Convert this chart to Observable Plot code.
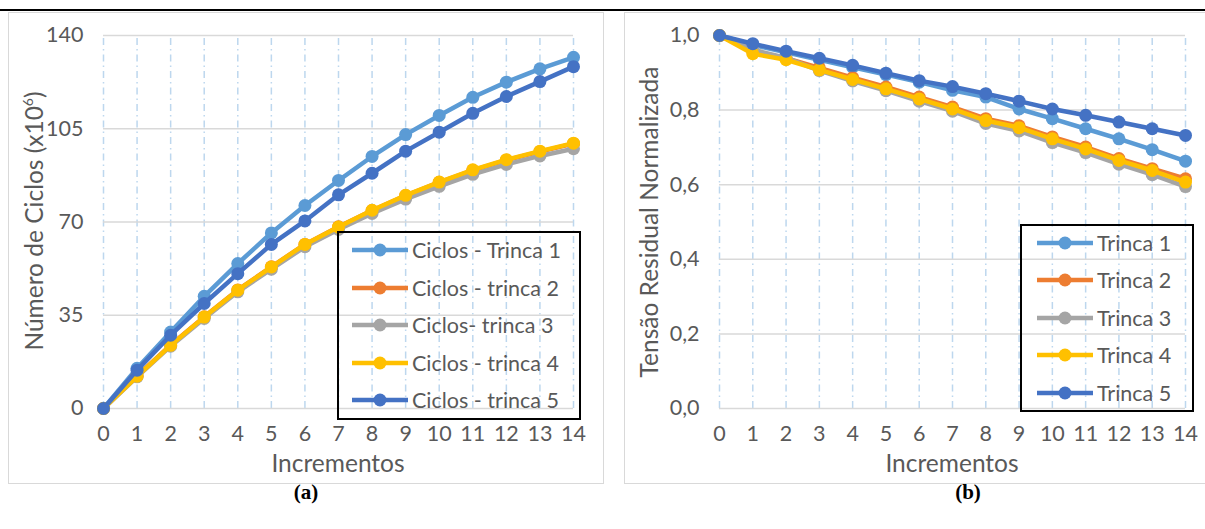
<!DOCTYPE html>
<html>
<head>
<meta charset="utf-8">
<script src="https://cdn.jsdelivr.net/npm/d3@7"></script>
<script src="https://cdn.jsdelivr.net/npm/@observablehq/plot@0.6"></script>
<style>
  html, body { margin: 0; padding: 0; background: #fff; }
  #page { position: relative; width: 1205px; height: 529px; overflow: hidden; font-family: Lato, "Open Sans", sans-serif; }
  .abs { position: absolute; }
  .panel { position: absolute; border: 1.5px solid #d9d9d9; box-sizing: border-box; }
  .ttl { position: absolute; color: #595959; font-size: 24.5px; white-space: nowrap; }
  .legend { position: absolute; border: 2px solid #000; box-sizing: border-box; }
  .lrow { position: absolute; left: 0; height: 30px; display: flex; align-items: center; color: #595959; font-size: 21.5px; white-space: nowrap; }
  .cap { position: absolute; font-family: "Liberation Serif", serif; font-weight: bold; font-size: 21px; color: #000; }
</style>
</head>
<body>
<div id="page"></div>
<script>
// ---------- data ----------
const increments = [0,1,2,3,4,5,6,7,8,9,10,11,12,13,14];

const seriesNamesA = ["Ciclos - Trinca 1", "Ciclos - trinca 2", "Ciclos- trinca 3", "Ciclos - trinca 4", "Ciclos - trinca 5"];
const ciclosT1 = [0, 15.1, 28.7, 42.1, 54.4, 65.9, 76.2, 85.6, 94.6, 102.8, 110.0, 116.8, 122.5, 127.5, 131.8];
const ciclosT2 = [0, 12.2, 23.8, 34.4, 44.5, 53.2, 61.6, 68.2, 74.3, 79.9, 84.9, 89.4, 93.2, 96.4, 99.4];
const ciclosT3 = [0, 11.9, 23.4, 33.8, 43.8, 52.3, 60.7, 67.2, 73.2, 78.6, 83.4, 87.9, 91.6, 94.8, 97.5];
const ciclosT4 = [0, 12.1, 23.7, 34.3, 44.4, 53.1, 61.6, 68.1, 74.4, 80.0, 85.0, 89.6, 93.4, 96.6, 99.6];
const ciclosT5 = [0, 14.4, 27.5, 39.4, 50.6, 61.6, 70.4, 80.2, 88.3, 96.6, 103.7, 110.8, 117.1, 122.7, 128.3];

const seriesNamesB = ["Trinca 1", "Trinca 2", "Trinca 3", "Trinca 4", "Trinca 5"];
const tensaoT1 = [1.0, 0.975, 0.955, 0.935, 0.915, 0.895, 0.875, 0.853, 0.835, 0.803, 0.777, 0.750, 0.723, 0.694, 0.663];
const tensaoT2 = [1.0, 0.957, 0.939, 0.913, 0.887, 0.862, 0.835, 0.808, 0.777, 0.758, 0.728, 0.701, 0.670, 0.643, 0.616];
const tensaoT3 = [1.0, 0.962, 0.940, 0.906, 0.878, 0.852, 0.824, 0.797, 0.764, 0.744, 0.713, 0.686, 0.655, 0.627, 0.595];
const tensaoT4 = [1.0, 0.951, 0.935, 0.908, 0.882, 0.857, 0.830, 0.803, 0.772, 0.753, 0.723, 0.696, 0.665, 0.638, 0.607];
const tensaoT5 = [1.0, 0.978, 0.958, 0.939, 0.920, 0.899, 0.879, 0.863, 0.844, 0.824, 0.803, 0.786, 0.768, 0.750, 0.732];

const seriesColors = ["#5B9BD5", "#ED7D31", "#A5A5A5", "#FFC000", "#4472C4"];
const yTicksA = [0, 35, 70, 105, 140];
const yTicksB = [0, 0.2, 0.4, 0.6, 0.8, 1.0];

// ---------- helpers ----------
const page = document.getElementById("page");
function el(tag, cls, style, html) {
  const e = document.createElement(tag);
  if (cls) e.className = cls;
  Object.assign(e.style, style || {});
  if (html != null) e.innerHTML = html;
  page.appendChild(e);
  return e;
}

// top rule
el("div", "abs", {left: "0px", top: "9px", width: "1205px", height: "2px", background: "#000"});
// panels
el("div", "panel", {left: "8px", top: "12px", width: "596px", height: "472px"});
el("div", "panel", {left: "624px", top: "12px", width: "600px", height: "472px"});

function makeChart(names, seriesArrays, opts) {
  const data = [];
  names.forEach((n, i) => seriesArrays[i].forEach((v, j) => data.push({series: n, x: increments[j], y: v})));
  const marks = [
    Plot.ruleX(increments, {x: d => d, y1: opts.yDomain[0], y2: opts.yDomain[1], stroke: "#bdd7ee", strokeWidth: 1.5, strokeDasharray: "7,4,1.5,4"}),
    Plot.ruleY(opts.yTicks, {y: d => d, x1: 0, x2: 14, stroke: "#d9d9d9", strokeWidth: 1.5}),
    Plot.axisX({ticks: increments, tickSize: 0, tickPadding: 17, fontSize: 21.5, label: null, tickFormat: d => String(d)}),
    Plot.axisY({ticks: opts.yTicks, tickSize: 0, tickPadding: 20, fontSize: 21.5, label: null, tickFormat: opts.fmt})
  ];
  names.forEach((n, i) => {
    const sub = data.filter(d => d.series === n);
    marks.push(Plot.line(sub, {x: "x", y: "y", stroke: seriesColors[i], strokeWidth: 4.5}));
    marks.push(Plot.dot(sub, {x: "x", y: "y", fill: seriesColors[i], r: 6.5}));
  });
  return Plot.plot({
    width: opts.width, height: opts.height,
    marginLeft: opts.ml, marginRight: opts.mr, marginTop: opts.mt, marginBottom: opts.mb,
    x: {domain: [0, 14]},
    y: {domain: opts.yDomain},
    style: {fontFamily: "Lato, 'Open Sans', sans-serif", color: "#595959", background: "transparent", overflow: "visible"},
    marks
  });
}

const chartA = makeChart(seriesNamesA, [ciclosT1, ciclosT2, ciclosT3, ciclosT4, ciclosT5],
  {width: 595, height: 472, ml: 95, mr: 30, mt: 23, mb: 76, yDomain: [0, 140], yTicks: yTicksA, fmt: d => String(d)});
chartA.style.position = "absolute"; chartA.style.left = "8px"; chartA.style.top = "12px";
page.appendChild(chartA);

const chartB = makeChart(seriesNamesB, [tensaoT1, tensaoT2, tensaoT3, tensaoT4, tensaoT5],
  {width: 580, height: 472, ml: 94, mr: 20, mt: 23, mb: 76, yDomain: [0, 1], yTicks: yTicksB, fmt: d => d.toFixed(1).replace(".", ",")});
chartB.style.position = "absolute"; chartB.style.left = "625px"; chartB.style.top = "12px";
page.appendChild(chartB);

// axis titles
el("div", "ttl", {left: "338px", top: "462px", transform: "translate(-50%,-50%)"}, "Incrementos");
el("div", "ttl", {left: "952px", top: "462px", transform: "translate(-50%,-50%)"}, "Incrementos");
el("div", "ttl", {left: "33px", top: "221px", transform: "translate(-50%,-50%) rotate(-90deg)"}, "Número de Ciclos (x10<sup style='font-size:14px'>6</sup>)");
el("div", "ttl", {left: "648px", top: "222px", transform: "translate(-50%,-50%) rotate(-90deg)"}, "Tensão Residual Normalizada");

// legends
function legend(names, box, rows, sw) {
  el("div", "legend", {left: box.l + "px", top: box.t + "px", width: (box.r - box.l) + "px", height: (box.b - box.t) + "px"});
  names.forEach((n, i) => {
    const row = el("div", "lrow", {left: sw.x0 + "px", top: (rows[i] - 15) + "px"});
    row.innerHTML = `<svg width="${sw.w}" height="30" style="margin-right:${sw.gap}px"><line x1="0" x2="${sw.w}" y1="15" y2="15" stroke="${seriesColors[i]}" stroke-width="4.5"/><circle cx="${sw.w/2}" cy="15" r="6.5" fill="${seriesColors[i]}"/></svg><span>${n}</span>`;
  });
}
legend(seriesNamesA, {l: 337, t: 231, r: 581, b: 420}, [250, 287.5, 325, 362.5, 400], {x0: 352, w: 56, gap: 4});
legend(seriesNamesB, {l: 1020, t: 224, r: 1194, b: 412}, [242.5, 280, 317.5, 355, 392.5], {x0: 1037, w: 56, gap: 4});

// captions
el("div", "cap", {left: "306px", top: "492px", transform: "translate(-50%,-50%)"}, "(a)");
el("div", "cap", {left: "968px", top: "492px", transform: "translate(-50%,-50%)"}, "(b)");
</script>
</body>
</html>
